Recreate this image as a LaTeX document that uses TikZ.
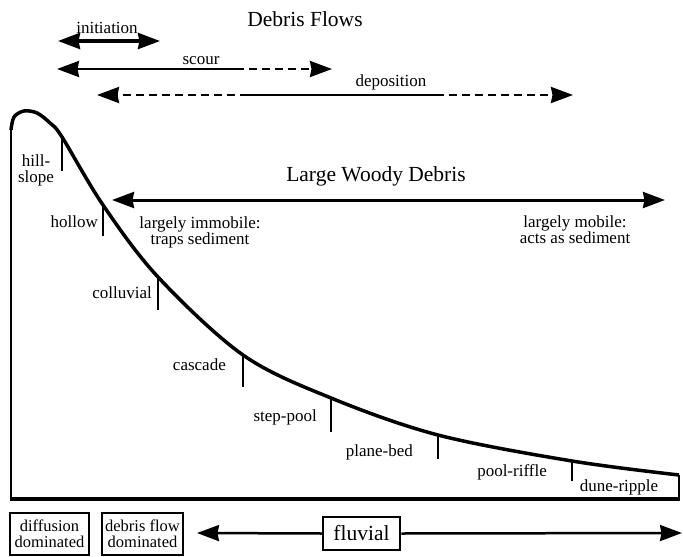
\documentclass[tikz,border=0pt]{standalone}
\usepackage{fontspec}
\setmainfont{Liberation Serif}
\usepackage{tikz}
\usetikzlibrary{arrows.meta}

\begin{document}
\begin{tikzpicture}[x=1pt, y=-1pt,
  lbl/.style={font=\fontsize{17}{16}\selectfont, inner sep=1pt},
  big/.style={font=\fontsize{21.5}{24}\selectfont, inner sep=1pt},
  tick/.style={line width=2.5pt},
  arr/.style={line width=2.5pt, -{Stealth[length=22pt,width=16pt,inset=1.5pt]}},
  dbl/.style={{Stealth[length=22pt,width=16pt,inset=1.5pt]}-{Stealth[length=22pt,width=16pt,inset=1.5pt]}},
  dashline/.style={dash pattern=on 8pt off 5pt},
  regime/.style={draw, line width=2.5pt, inner sep=1pt, align=center,
    font=\fontsize{16.5}{16}\selectfont, minimum height=42pt}]
\useasboundingbox (0,0) rectangle (683,557);
% debris flows
\node[big] (title) at (305,19) {Debris Flows};
\coordinate (ini l) at (58,41);
\coordinate (ini r) at (160,41);
\draw[line width=3.5pt, dbl] (ini l) -- (ini r);
\node[lbl, anchor=south] (ini) at (107,35) {initiation};
\coordinate (scour l) at (57,69);
\coordinate (scour m) at (236,69);
\coordinate (scour r) at (332,69);
\draw[arr] (scour m) -- (scour l);
\draw[arr, dashline] (scour m) -- (scour r);
\node[lbl, anchor=south] (scour) at (201,66) {scour};
\coordinate (dep l) at (97,95);
\coordinate (dep m1) at (248,95);
\coordinate (dep m2) at (436,95);
\coordinate (dep r) at (573,95);
\draw[arr, dashline] (dep m1) -- (dep l);
\draw[line width=2.5pt] (dep m1) -- (dep m2);
\draw[arr, dashline] (dep m2) -- (dep r);
\node[lbl, anchor=south] (dep) at (391,91) {deposition};
% profile
\draw[line width=2pt] (11,128) -- (11,499);
\draw[line width=3.5pt] (10,499) -- (680,499);
\draw[line width=2pt] (679,475) -- (679,499);
\draw[line width=3.5pt] plot[smooth, tension=0.55] coordinates {(11,130) (14,117) (24,111) (37,113) (50,123) (62,137) (103,205) (158,277) (243,355) (331,398) (438,435) (572,461) (679,475)};
\foreach \x/\y/\h in {62/137/34, 103/205/31, 158/277/33, 243/355/32, 331/398/34, 438/435/24, 572/461/20}
  \draw[tick] (\x,\y) -- ++(0,\h);
\node[lbl, align=center] (hill) at (36,170) {hill-\\slope};
\node[lbl, anchor=east] (hollow) at (99,222) {hollow};
\node[lbl, anchor=east] (coll) at (153,293) {colluvial};
\node[lbl, anchor=east] (casc) at (227,365) {cascade};
\node[lbl, anchor=east] (step) at (318,417) {step-pool};
\node[lbl, anchor=east] (plane) at (414,452) {plane-bed};
\node[lbl, anchor=east] (riffle) at (548,472) {pool-riffle};
\node[lbl] (dune) at (619,487) {dune-ripple};
% large woody debris
\node[big] (lwd) at (376,176) {Large Woody Debris};
\coordinate (lwd l) at (112,200);
\coordinate (lwd r) at (665,200);
\draw[line width=3pt, dbl] (lwd l) -- (lwd r);
\node[lbl, align=center] (immob) at (200,232) {largely immobile:\\traps sediment};
\node[lbl, align=center] (mob) at (575,230) {largely mobile:\\acts as sediment};
% process regimes
\node[regime, minimum width=79pt] (diff) at (49.5,534) {diffusion\\dominated};
\node[regime, minimum width=81pt] (dfd) at (142.5,534) {debris flow\\dominated};
\node[regime, minimum width=77pt, minimum height=33pt, font=\fontsize{21.5}{24}\selectfont] (fluv) at (361.5,533.5) {fluvial};
\coordinate (fluv l) at (197,533);
\coordinate (fluv r) at (682,533);
\draw[arr] (fluv.west) -- (fluv l);
\draw[arr] (fluv.east) -- (fluv r);
\end{tikzpicture}
\end{document}
